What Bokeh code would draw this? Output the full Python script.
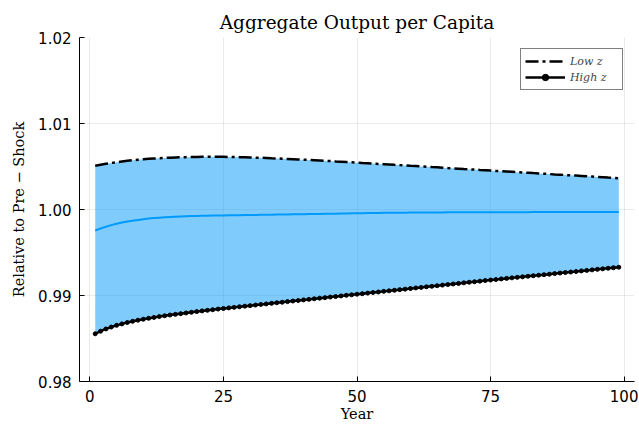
from bokeh.plotting import figure
from bokeh.models import (FixedTicker, NumeralTickFormatter, Legend, LegendItem,
                          Range1d)
from bokeh.embed import file_html
from bokeh.resources import INLINE

years = list(range(1, 100))

# Upper bound of the band (Low z)
low_z = [
    1.00508, 1.00520, 1.00531, 1.00541, 1.00550, 1.00558, 1.00566, 1.00573, 1.00579, 1.00584,
    1.00589, 1.00593, 1.00597, 1.00600, 1.00603, 1.00605, 1.00607, 1.00609, 1.00610, 1.00611,
    1.00612, 1.00612, 1.00612, 1.00612, 1.00612, 1.00611, 1.00610, 1.00609, 1.00607, 1.00605,
    1.00603, 1.00601, 1.00599, 1.00596, 1.00594, 1.00591, 1.00588, 1.00585, 1.00582, 1.00579,
    1.00576, 1.00573, 1.00570, 1.00566, 1.00563, 1.00559, 1.00556, 1.00552, 1.00549, 1.00545,
    1.00541, 1.00538, 1.00534, 1.00530, 1.00527, 1.00523, 1.00519, 1.00516, 1.00512, 1.00508,
    1.00505, 1.00501, 1.00497, 1.00493, 1.00490, 1.00486, 1.00482, 1.00479, 1.00475, 1.00471,
    1.00468, 1.00464, 1.00460, 1.00457, 1.00453, 1.00449, 1.00446, 1.00442, 1.00438, 1.00434,
    1.00431, 1.00427, 1.00423, 1.00420, 1.00416, 1.00412, 1.00408, 1.00405, 1.00401, 1.00397,
    1.00394, 1.00390, 1.00386, 1.00383, 1.00379, 1.00375, 1.00371, 1.00368, 1.00364,
]

# Lower bound of the band (High z)
high_z = [
    0.98555, 0.98585, 0.98611, 0.98633, 0.98653, 0.98670, 0.98686, 0.98700, 0.98713, 0.98724,
    0.98735, 0.98745, 0.98755, 0.98764, 0.98773, 0.98781, 0.98789, 0.98797, 0.98805, 0.98813,
    0.98821, 0.98828, 0.98835, 0.98842, 0.98849, 0.98856, 0.98862, 0.98869, 0.98876, 0.98882,
    0.98889, 0.98896, 0.98902, 0.98909, 0.98916, 0.98922, 0.98929, 0.98936, 0.98942, 0.98949,
    0.98955, 0.98962, 0.98969, 0.98975, 0.98982, 0.98988, 0.98995, 0.99002, 0.99008, 0.99015,
    0.99021, 0.99028, 0.99035, 0.99041, 0.99048, 0.99054, 0.99061, 0.99068, 0.99074, 0.99081,
    0.99088, 0.99094, 0.99101, 0.99107, 0.99114, 0.99121, 0.99127, 0.99134, 0.99140, 0.99147,
    0.99154, 0.99160, 0.99167, 0.99174, 0.99180, 0.99186, 0.99193, 0.99199, 0.99205, 0.99211,
    0.99217, 0.99224, 0.99230, 0.99236, 0.99242, 0.99248, 0.99255, 0.99261, 0.99267, 0.99273,
    0.99279, 0.99286, 0.99292, 0.99298, 0.99304, 0.99310, 0.99317, 0.99323, 0.99329,
]

# Central path
mean_path = [
    0.99756, 0.99779, 0.99800, 0.99818, 0.99834, 0.99848, 0.99860, 0.99870, 0.99879, 0.99887,
    0.99894, 0.99900, 0.99905, 0.99909, 0.99913, 0.99916, 0.99919, 0.99921, 0.99923, 0.99925,
    0.99927, 0.99928, 0.99929, 0.99930, 0.99931, 0.99932, 0.99933, 0.99934, 0.99935, 0.99936,
    0.99937, 0.99938, 0.99939, 0.99940, 0.99941, 0.99942, 0.99943, 0.99944, 0.99945, 0.99946,
    0.99947, 0.99948, 0.99949, 0.99950, 0.99951, 0.99952, 0.99953, 0.99954, 0.99955, 0.99956,
    0.99957, 0.99958, 0.99959, 0.99960, 0.99961, 0.99961, 0.99962, 0.99963, 0.99963, 0.99964,
    0.99964, 0.99965, 0.99965, 0.99966, 0.99966, 0.99966, 0.99967, 0.99967, 0.99967, 0.99968,
    0.99968, 0.99968, 0.99968, 0.99969, 0.99969, 0.99969, 0.99969, 0.99969, 0.99969, 0.99969,
    0.99969, 0.99969, 0.99970, 0.99970, 0.99970, 0.99970, 0.99970, 0.99970, 0.99970, 0.99970,
    0.99970, 0.99970, 0.99970, 0.99970, 0.99970, 0.99970, 0.99970, 0.99970, 0.99970,
]

x_ticks = [0, 25, 50, 75, 100]
y_ticks = [0.98, 0.99, 1.00, 1.01, 1.02]

p = figure(width=639, height=429, output_backend="svg", toolbar_location=None,
           x_range=Range1d(-1.94, 101.94), y_range=Range1d(0.98, 1.02),
           min_border_left=79, min_border_right=5, min_border_top=37,
           min_border_bottom=48)

p.outline_line_color = None
p.background_fill_color = "white"
p.border_fill_color = "white"

p.title.text = "Aggregate Output per Capita"
p.title.align = "center"
p.title.text_font = "DejaVu Serif"
p.title.text_font_size = "18.5px"
p.title.text_font_style = "normal"
p.title.text_color = "black"

for ax in (p.xaxis, p.yaxis):
    ax.major_tick_in = 5
    ax.major_tick_out = 0
    ax.minor_tick_in = 0
    ax.minor_tick_out = 0
    ax.axis_line_color = "black"
    ax.major_tick_line_color = "black"
    ax.major_label_text_font = "DejaVu Sans"
    ax.major_label_text_font_size = "15px"
    ax.major_label_text_color = "black"
    ax.major_label_standoff = 8
    ax.axis_label_text_font = "DejaVu Serif"
    ax.axis_label_text_font_size = "14.5px"
    ax.axis_label_text_font_style = "normal"
    ax.axis_label_text_color = "black"

p.xaxis.axis_label_standoff = 1
p.yaxis.axis_label_standoff = 8

p.xaxis.ticker = FixedTicker(ticks=x_ticks)
p.yaxis.ticker = FixedTicker(ticks=y_ticks)
p.yaxis.formatter = NumeralTickFormatter(format="0.00")
p.xaxis.axis_label = "Year"
p.yaxis.axis_label = "Relative to Pre \u2212 Shock"

p.xgrid.ticker = FixedTicker(ticks=x_ticks)
p.ygrid.ticker = FixedTicker(ticks=y_ticks)
for g in (p.xgrid, p.ygrid):
    g.grid_line_color = "black"
    g.grid_line_alpha = 0.08

p.varea(x=years, y1=high_z, y2=low_z, fill_color="#009AFA", fill_alpha=0.5)
p.line(years, mean_path, line_color="#009AFA", line_width=2)
low_line = p.line(years, low_z, line_color="black", line_width=2.5,
                  line_dash="13 4 3 4")
high_line = p.line(years, high_z, line_color="black", line_width=2.5)
high_pts = p.scatter(years, high_z, size=4, color="black")

legend = Legend(items=[LegendItem(label="Low z", renderers=[low_line]),
                       LegendItem(label="High z", renderers=[high_line, high_pts])],
                location="top_right")
legend.border_line_color = "black"
legend.border_line_width = 1
legend.background_fill_color = "white"
legend.background_fill_alpha = 1
legend.label_text_font = "DejaVu Serif"
legend.label_text_font_style = "italic"
legend.label_text_font_size = "11px"
legend.glyph_width = 40
legend.glyph_height = 16
legend.label_height = 12
legend.label_width = 48
legend.spacing = 0
legend.padding = 4
legend.margin = 11
legend.label_standoff = 5
p.add_layout(legend)

open("out.html", "w").write(file_html(p, INLINE))
